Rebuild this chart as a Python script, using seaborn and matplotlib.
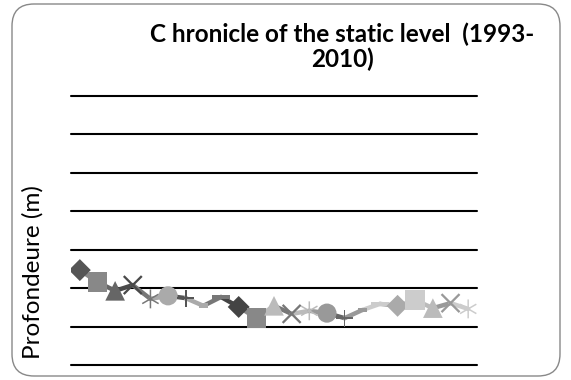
import numpy as np
import pandas as pd
import matplotlib
matplotlib.use("Agg")
import matplotlib.pyplot as plt
import seaborn as sns
from matplotlib.path import Path
from matplotlib.patches import FancyBboxPatch

# Static level readings (successive measurements)
measure = list(range(1, 24))
depth = [2.47, 2.16, 1.93, 2.08, 1.72, 1.80, 1.74, 1.54, 1.77, 1.51, 1.22, 1.54,
         1.33, 1.41, 1.35, 1.22, 1.43, 1.59, 1.54, 1.69, 1.48, 1.61, 1.46]

title = "C hronicle of the static level  (1993-\n2010)"
ylabel = "Profondeure (m)"

# per-point grey shades (varied colours by point)
point_colors = ["#555555", "#888888", "#666666", "#4a4a4a", "#777777", "#aaaaaa",
                "#555555", "#aaaaaa", "#777777", "#444444", "#888888", "#bbbbbb",
                "#777777", "#bbbbbb", "#999999", "#666666", "#999999", "#cccccc",
                "#aaaaaa", "#cccccc", "#bbbbbb", "#999999", "#cccccc"]

marker_cycle = ["diamond", "square", "triangle", "x", "star", "circle", "plus",
                "dash", "longdash"]


def spokes(n, half_width, rot_deg=0.0):
    """Filled outline of a thin n-armed cross."""
    verts = []
    inner = half_width / np.sin(np.pi / n)
    for k in range(n):
        t = np.deg2rad(rot_deg) + 2 * np.pi * k / n
        d = np.array([np.cos(t), np.sin(t)])
        p = np.array([-np.sin(t), np.cos(t)])
        verts.append(d - half_width * p)
        verts.append(d + half_width * p)
        tm = t + np.pi / n
        verts.append(inner * np.array([np.cos(tm), np.sin(tm)]))
    verts.append(verts[0])
    codes = [Path.MOVETO] + [Path.LINETO] * (len(verts) - 2) + [Path.CLOSEPOLY]
    return Path(verts, codes)


def bar(h):
    verts = [(-1, -h), (1, -h), (1, h), (-1, h), (-1, -h)]
    codes = [Path.MOVETO, Path.LINETO, Path.LINETO, Path.LINETO, Path.CLOSEPOLY]
    return Path(verts, codes)


marker_shapes = {
    "diamond": "D",
    "square": "s",
    "triangle": "^",
    "x": spokes(4, 0.09, 45),
    "star": spokes(6, 0.08, 90),
    "circle": "o",
    "plus": spokes(4, 0.09, 0),
    "dash": bar(0.55),
    "longdash": bar(0.22),
}
marker_sizes = {
    "diamond": 125, "square": 200, "triangle": 200, "x": 200, "star": 185,
    "circle": 190, "plus": 150, "dash": 40, "longdash": 170,
}

n = len(measure)
pts = pd.DataFrame({
    "measure": measure,
    "depth": depth,
    "kind": [marker_cycle[i % len(marker_cycle)] for i in range(n)],
})

# one two-point piece per connection, coloured like the point it reaches
seg_rows = []
for i in range(1, n):
    seg_rows.append({"measure": measure[i - 1], "depth": depth[i - 1], "seg": i})
    seg_rows.append({"measure": measure[i], "depth": depth[i], "seg": i})
segs = pd.DataFrame(seg_rows)

sns.set_theme(style="white")
plt.rcParams["font.family"] = ["Lato", "DejaVu Sans"]

fig = plt.figure(figsize=(5.71, 3.80), dpi=100)
ax = fig.add_axes([71 / 571, 1 - 365 / 380, 406 / 571, 269 / 380])

sns.lineplot(data=segs, x="measure", y="depth", hue="seg",
             palette={i: point_colors[i] for i in range(1, n)},
             estimator=None, sort=False, linewidth=3.2, legend=False,
             solid_capstyle="round", ax=ax, zorder=3)

sns.scatterplot(data=pts, x="measure", y="depth", hue="measure",
                palette=dict(zip(measure, point_colors)),
                style="kind", markers=marker_shapes,
                size="kind", sizes=marker_sizes,
                linewidth=0, legend=False, ax=ax, zorder=4)

ax.set_xlim(measure[0] - 0.5, measure[-1] + 0.5)
ax.set_ylim(0, 7)
ax.set_yticks(range(0, 8))
ax.set_xticks([])
ax.tick_params(left=False, bottom=False, labelleft=False, labelbottom=False)
ax.yaxis.grid(True, color="black", linewidth=1.5)
for gl in ax.get_ygridlines():
    gl.set_clip_on(False)
ax.set_axisbelow(True)
for s in ax.spines.values():
    s.set_visible(False)
ax.set_xlabel("")
ax.set_ylabel("")
ax.patch.set_alpha(0)

fig.text(33 / 571, 1 - 272 / 380, ylabel, rotation=90, ha="center", va="center",
         fontsize=17.5, color="black")
fig.text(342 / 571, 1 - 23 / 380, title, ha="center", va="top",
         fontsize=17.5, fontweight="bold", color="black", linespacing=1.05)

border = FancyBboxPatch((12, 4), 548, 372,
                        boxstyle="round,pad=0,rounding_size=22",
                        transform=None, facecolor="none", edgecolor="#888888",
                        linewidth=1.0)
fig.patches.append(border)

fig.savefig("out.png", dpi=100)
